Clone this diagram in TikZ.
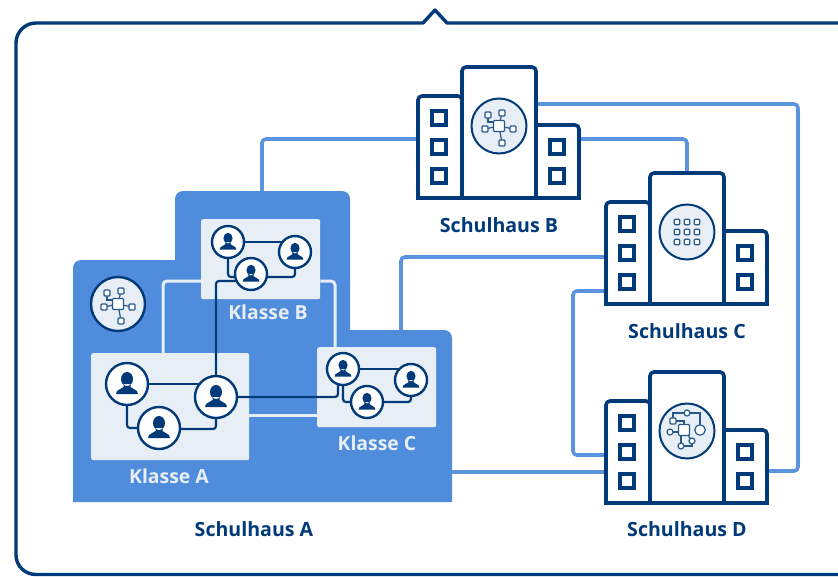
\documentclass[tikz,border=0pt]{standalone}
\usepackage{fontspec}
\setmainfont{Open Sans}
\pgfdeclarelayer{base}
\pgfdeclarelayer{links}
\pgfsetlayers{base,links,main}
\definecolor{navy}{HTML}{003A78}
\definecolor{midblue}{HTML}{4F8DDC}
\definecolor{lineblue}{HTML}{5B94DE}
\definecolor{pale}{HTML}{E8EEF5}
\tikzset{
  frameline/.style={draw=navy,line width=3.4pt,line join=round},
  classbox/.style={fill=pale,rounded corners=2pt,inner sep=0pt,anchor=north west},
  paleline/.style={draw=pale,line width=3pt,rounded corners=4pt},
  darkline/.style={draw=navy,line width=2.2pt,rounded corners=3pt},
  blueline/.style={draw=lineblue,line width=3.6pt,rounded corners=4pt},
  wall/.style={draw=navy,fill=white,line width=3.6pt},
  pane/.style={draw=navy,fill=white,line width=3.6pt,minimum size=14.5pt,inner sep=0pt},
  person/.style={circle,draw=navy,fill=white,line width=2.4pt,inner sep=0pt},
  badge/.style={circle,draw=navy,fill=pale,line width=2pt,minimum size=55pt,inner sep=0pt},
  glyph/.style={draw=navy!85!white,line width=1.2pt},
  glyphbox/.style={draw=navy!85!white,fill=white,line width=1.2pt,rounded corners=1pt,inner sep=0pt},
  bigtext/.style={font=\bfseries\fontsize{19.6}{22}\selectfont,text=navy,inner sep=0pt},
  classtext/.style={font=\bfseries\fontsize{19.4}{22}\selectfont,text=pale,inner sep=0pt},
}
\newcommand{\personnode}[4]{%
  \node[person,minimum size=#4*2pt] (#1) at (#2,#3) {};
  \fill[navy,shift={(#2,#3)},scale=#4/21]
    (0,-5) ellipse (6 and 7)
    (-3.5,0) -- (-3.5,3) -- (-10,7) -- (-11,10) -- (11,10) -- (10,7) -- (3.5,3) -- (3.5,0) -- cycle;
}
\newcommand{\netglyph}[1]{%
  \begin{scope}[shift={(#1)}]
    \draw[glyph] (0,0) -- (-14,3) (0,0) -- (14,3) (0,0) -- (3,-13) (0,0) -- (3,17);
    \draw[glyph] (-11,-11) |- (-4,-4);
    \node[glyphbox,minimum size=11pt,fill=white] at (0,0) {};
    \foreach \p in {(-11,-11),(3,-13),(14,3),(3,17),(-14,3)}
      \node[glyphbox,minimum size=6pt] at \p {};
  \end{scope}
}
\newcommand{\buildingbody}[3]{%
  \begin{scope}[shift={(#2,#3)}]
    \draw[wall] (418,198) [rounded corners=4pt] -- (418,96) -- (462,96) [sharp corners] -- (462,198) -- cycle;
    \draw[wall] (536,198) -- (536,125) [rounded corners=4pt] -- (579,125) [sharp corners] -- (579,198) -- cycle;
    \draw[wall] (462,198) [rounded corners=4pt] -- (462,67) -- (536,67) [sharp corners] -- (536,198) -- cycle;
    \foreach \wy in {118,147,176} \node[pane] at (439,\wy) {};
    \foreach \wy in {147,176} \node[pane] at (557,\wy) {};
    \node[badge] (#1) at (499,126) {};
  \end{scope}
}
\begin{document}
\begin{tikzpicture}[x=1pt,y=-1pt]
\useasboundingbox (0,0) rectangle (838,576);
\begin{pgfonlayer}{base}
  \fill[white] (0,0) rectangle (838,576);
  \draw[frameline] (840,23) -- (447,23) -- (435,10) -- (423,23) -- (36,23)
    .. controls (25,23) and (16,32) .. (16,43) -- (16,555)
    .. controls (16,566) and (25,574.5) .. (36,574.5) -- (840,574.5);
  \fill[midblue] (73,502) [rounded corners=8pt] -- (73,260) [sharp corners] -- (175,260) [rounded corners=8pt] -- (175,191) -- (350,191) [sharp corners] -- (350,330) [rounded corners=8pt] -- (452,330) [sharp corners] -- (452,502) -- cycle;
  \node[classbox,minimum width=119pt,minimum height=80pt] (kb) at (201,219) {};
  \node[classbox,minimum width=158pt,minimum height=107pt] (ka) at (91,353) {};
  \node[classbox,minimum width=119pt,minimum height=80pt] (kc) at (317,347) {};
  \draw[paleline] (ka.north -| 163,353) -- (163,281) -- (kb.west |- 0,281);
  \draw[paleline] (kb.east |- 0,281) -- (335,281) -- (335,347);
  \draw[paleline] (249,415) -- (317,415);
\end{pgfonlayer}

\coordinate (aTop) at (262,191);
\coordinate (aRight) at (452,472);
\coordinate (aStep) at (401,330);
\coordinate (bLeft) at (418,139);
\coordinate (bRight) at (579,139);
\coordinate (bTower) at (536,104);
\coordinate (cTop) at (687,173);
\coordinate (cLeftA) at (606,257);
\coordinate (cLeftB) at (606,291);
\coordinate (dLeftA) at (606,455);
\coordinate (dLeftB) at (606,472);
\coordinate (dRight) at (768,471);

\begin{pgfonlayer}{links}
  \draw[blueline] (aTop) |- (bLeft);
  \draw[blueline] (bRight) -| (cTop);
  \draw[blueline] (bTower) -- (798,104) -- (798,471) -- (dRight);
  \draw[blueline] (aStep) |- (cLeftA);
  \draw[blueline] (cLeftB) -- (573,291) -- (573,455) -- (dLeftA);
  \draw[blueline] (aRight) -- (dLeftB);
\end{pgfonlayer}

\buildingbody{bb}{0}{0}
\buildingbody{bc}{188}{106}
\buildingbody{bd}{188}{305}

\netglyph{bb}
\node[badge,minimum size=54pt,line width=2.4pt] (ba) at (118,304) {};
\netglyph{ba}

% grid glyph
\begin{scope}[shift={(bc)}]
\foreach \gx in {-10,0,10} \foreach \gy in {-10,0,10}
  \node[glyphbox,minimum size=5.5pt] at (\gx,\gy) {};
\end{scope}

% process glyph
\begin{scope}[shift={(bd)}]
  \draw[glyph] (-14,-12) |- (0,-18) -| (13,-1);
  \draw[glyph] (-14,-10) -- (-3,-10) -- (-3,-1);
  \draw[glyph] (-17,1) -- (-3,1);
  \draw[glyph] (-6,15) -- (-6,0);
  \draw[glyph] (-6,15) -- (5,15) -- (5,10);
  \draw[glyph] (2,0) -- (2,6) -- (5,10);
  \node[glyphbox,minimum size=11pt] at (-3,-1) {};
  \node[glyphbox,circle,minimum size=10.5pt] at (13,-1) {};
  \node[glyphbox,circle,minimum size=6pt] at (0,-18) {};
  \node[glyphbox,minimum size=6pt] at (-14,-10) {};
  \node[glyphbox,circle,minimum size=6pt] at (-17,1) {};
  \node[glyphbox,circle,minimum size=6pt] at (-6,15) {};
  \node[glyphbox,circle,minimum size=6pt] at (5,10) {};
\end{scope}

\personnode{pa1}{127}{384}{21}
\personnode{pa2}{159}{428}{21}
\personnode{pa3}{216}{397}{21}
\personnode{pb1}{228}{242}{16}
\personnode{pb2}{295}{252}{16}
\personnode{pb3}{251}{274}{16}
\personnode{pc1}{343}{369}{16}
\personnode{pc2}{411}{380}{16}
\personnode{pc3}{367}{402}{16}

\begin{pgfonlayer}{links}
  \draw[darkline] (pa1) -- (pa3 |- pa1);
  \draw[darkline] (pa1) |- (pa2);
  \draw[darkline] (pa2 |- 0,429) -- (216,429) -- (pa3);
  \draw[darkline] (pb1) -- (pb2 |- pb1);
  \draw[darkline] (pb1) |- (pb3 |- 0,277);
  \draw[darkline] (pb3 |- 0,277) -| (pb2);
  \draw[darkline] (pc1) -- (pc2 |- pc1);
  \draw[darkline] (pc1) |- (pc3);
  \draw[darkline] (pc3) -| (pc2);
  \draw[darkline] (pa3) -- (338,397) -- (338,369) -- (pc1);
  \draw[darkline] (pa3) -- (216,281) -- (pb3 |- 0,281);
\end{pgfonlayer}

\node[classtext] (ta) at (169,476) {Klasse A};
\node[classtext] (tb) at (268,312) {Klasse B};
\node[classtext] (tc) at (377,443) {Klasse C};
\node[bigtext] (sa) at (254,529) {Schulhaus A};
\node[bigtext] (sb) at (499,225) {Schulhaus B};
\node[bigtext] (sc) at (687,331) {Schulhaus C};
\node[bigtext] (sd) at (687,529) {Schulhaus D};
\end{tikzpicture}
\end{document}
